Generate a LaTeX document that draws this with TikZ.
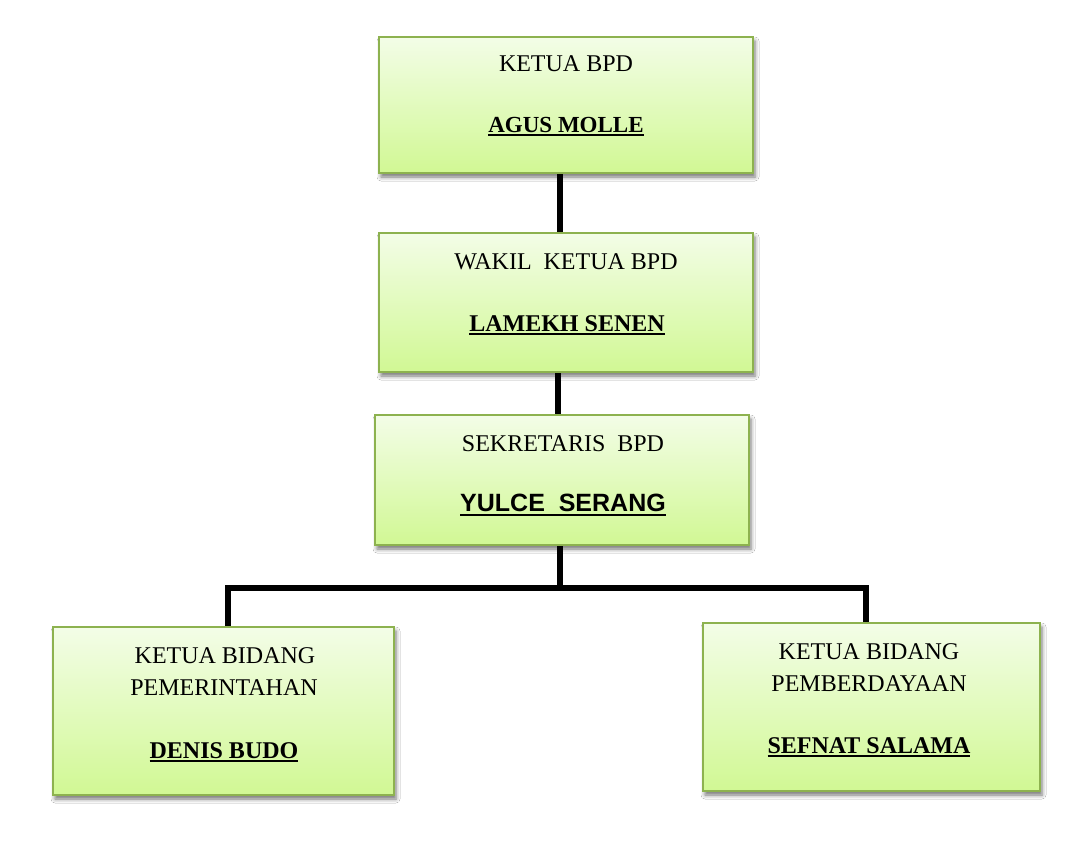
\documentclass[tikz,border=0pt]{standalone}
\usepackage{fontspec}
\setmainfont{Liberation Serif}
\newfontfamily\arialb{Liberation Sans}
\usetikzlibrary{shadows.blur}
\definecolor{bord}{HTML}{8DB24F}
\definecolor{topc}{HTML}{F3FDE7}
\definecolor{botc}{HTML}{D1F894}
\newcommand\myul[2][3.5pt]{\setbox0\hbox{#2}\rlap{\rule[-#1]{\wd0}{1.8pt}}\box0}
\begin{document}
\begin{tikzpicture}[x=1pt,y=-1pt,
  box/.style={draw=bord,line width=2.2pt,top color=topc,bottom color=botc,inner sep=0pt,
    blur shadow={shadow xshift=2pt,shadow yshift=-4pt,shadow blur radius=4pt,shadow opacity=55}},
  lbl/.style={anchor=base,inner sep=0pt,font=\fontsize{24}{28}\selectfont},
  nm/.style={anchor=base,inner sep=0pt,font=\fontsize{24}{28}\selectfont\bfseries},
  link/.style={line width=5.5pt,black,line join=miter}]
\useasboundingbox[fill=white] (0,0) rectangle (1092,852);

% boxes
\node[box,minimum width=374pt,minimum height=136pt] (b1) at (566,105) {};
\node[box,minimum width=374pt,minimum height=139pt] (b2) at (566,302.5) {};
\node[box,minimum width=374pt,minimum height=130pt] (b3) at (562,480) {};
\node[box,minimum width=341pt,minimum height=168pt] (b4) at (223.5,711) {};
\node[box,minimum width=337pt,minimum height=168pt] (b5) at (871.5,707) {};

% texts
\node[lbl] (t1a) at (566,71) {KETUA BPD};
\node[nm,font=\fontsize{23}{27}\selectfont\bfseries]  (t1b) at (566,132.5) {\myul{AGUS MOLLE}};
\node[lbl] (t2a) at (566,269) {WAKIL\ \ KETUA BPD};
\node[nm]  (t2b) at (567,331) {\myul{LAMEKH SENEN}};
\node[lbl] (t3a) at (563,451) {SEKRETARIS\ \ BPD};
\node[anchor=base,inner sep=0pt,font=\fontsize{25}{29}\selectfont\arialb\bfseries] (t3b) at (563,511) {\myul[5pt]{YULCE\ \ SERANG}};
\node[lbl] (t4a) at (225,663.5) {KETUA BIDANG};
\node[lbl] (t4b) at (224,695) {PEMERINTAHAN};
\node[nm]  (t4c) at (224,758) {\myul{DENIS BUDO}};
\node[lbl] (t5a) at (869,659.5) {KETUA BIDANG};
\node[lbl] (t5b) at (869,691.5) {PEMBERDAYAAN};
\node[nm]  (t5c) at (869,753) {\myul{SEFNAT SALAMA}};

% connectors
\coordinate (j) at (560,588);
\draw[link] ([xshift=-6pt]b1.south) -- ([xshift=-6pt]b2.north);
\draw[link] ([xshift=-8pt]b2.south) -- ([xshift=-4pt]b3.north);
\draw[link] ([xshift=-2pt]b3.south) -- (j);
\draw[link] ([xshift=4.5pt]b4.north) |- (j) -| ([xshift=-5.5pt]b5.north);
\end{tikzpicture}
\end{document}
